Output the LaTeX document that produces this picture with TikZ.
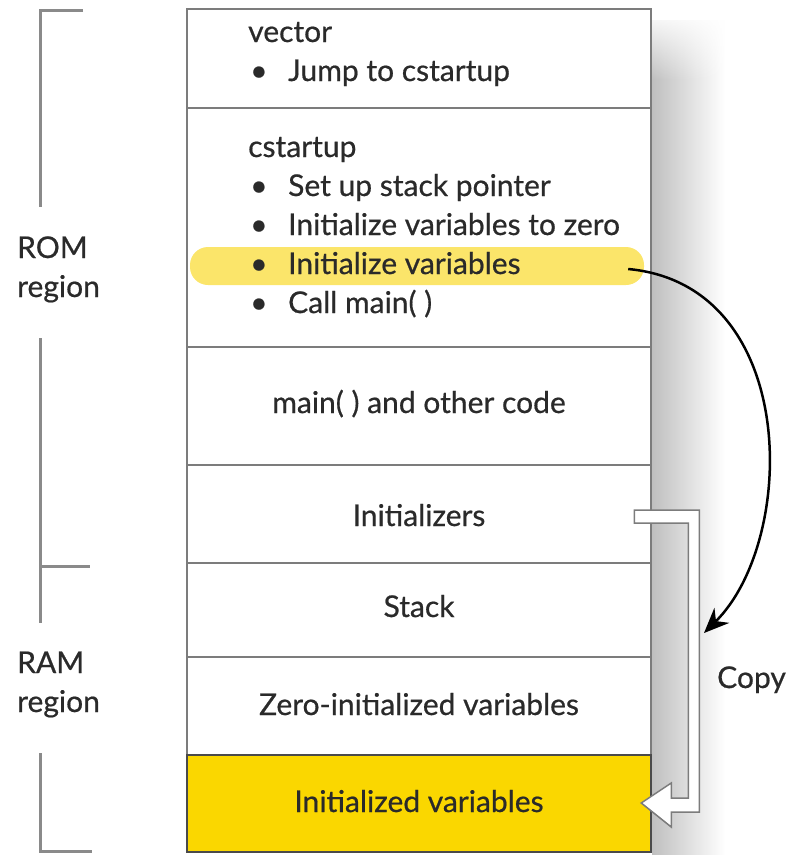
\documentclass[tikz,border=0pt]{standalone}
\usepackage{fontspec}
\setmainfont{Lato}[UprightFeatures={FakeBold=0.6}]
\usetikzlibrary{arrows.meta,fadings}
\definecolor{boxline}{HTML}{7C7C7C}
\definecolor{brkline}{HTML}{8A8A8A}
\definecolor{hilite}{HTML}{FBE56A}
\definecolor{ivarfill}{HTML}{FAD700}
\definecolor{txt}{HTML}{2A2A2A}

\begin{document}
\begin{tikzpicture}[x=1pt,y=-1pt,
  membox/.style={draw=boxline,line width=2.5pt,minimum width=464pt,inner sep=0pt},
  lbl/.style={text=txt,font=\fontsize{30}{39}\selectfont,inner sep=0pt},
  brk/.style={draw=brkline,line width=3pt},
  copyarrow/.style={draw=boxline,fill=white,line width=1.5pt,line join=miter}]
\useasboundingbox (0,0) rectangle (797,855);

% shadow on the right of the memory map
\shade[left color=gray!50,right color=white] (652,20) rectangle (725,855);
\fill[white,path fading=south] (650,10) rectangle (732,80);

% the memory map
\node[membox,minimum height=99pt] (vec) at (419,58.5) {};
\node[membox,minimum height=239pt] (cst) at (419,227.5) {};
\node[membox,minimum height=118pt] (mainc) at (419,406) {};
\node[membox,minimum height=98pt] (init) at (419,514) {};
\node[membox,minimum height=94pt] (stk) at (419,610) {};
\node[membox,minimum height=98pt] (zero) at (419,706) {};
\node[membox,minimum height=97pt,fill=ivarfill,draw=boxline!60!black] (ivar) at (419,803.5) {};

\node[fill=hilite,rounded corners=18pt,minimum width=454pt,minimum height=38pt] (hl) at (417,266) {};

\node[lbl,anchor=base west] (vtitle) at (248,42) {vector};
\node[lbl,anchor=base west] (vb1) at (250,81) {\textbullet};
\node[lbl,anchor=base west] (vl1) at (288,81) {Jump to cstartup};

\node[lbl,anchor=base west] (ctitle) at (248,157) {cstartup};
\foreach \yy/\tt [count=\i] in {196/Set up stack pointer,235/Initialize variables to zero,274/Initialize variables,313/Call main( )}{
  \node[lbl,anchor=base west] (cb\i) at (250,\yy) {\textbullet};
  \node[lbl,anchor=base west] (cl\i) at (288,\yy) {\tt};
}

\node[lbl,anchor=base] (tmain) at (mainc.center |- 0,413) {main( ) and other code};
\node[lbl,anchor=base] (tinit) at (init.center |- 0,526) {Initializers};
\node[lbl,anchor=base] (tstk) at (stk.center |- 0,617) {Stack};
\node[lbl,anchor=base] (tzero) at (zero.center |- 0,715) {Zero-initialized variables};
\node[lbl,anchor=base] (tivar) at (ivar.center |- 0,812) {Initialized variables};

% region brackets
\draw[brk] (83,10) -- (40,10) -- (40,207);
\draw[brk] (40,338) -- (40,566) -- (90,566) (40,566) -- (40,623);
\draw[brk] (40,753) -- (40,851) -- (92,851);
\node[lbl,anchor=base west,align=left] (rom) at (17,297) {ROM\\region};
\node[lbl,anchor=base west,align=left] (ram) at (17,712) {RAM\\region};

% copy arrow
\draw[copyarrow] ([shift={(-18,-4)}]init.east) -- ++(65,0) -- ++(0,302) -- ++(-28,0) -- ++(0,15)
  -- ++(-30,-24) -- ++(30,-20) -- ++(0,15) -- ++(17,0) -- ++(0,-275) -- ++(-54,0) -- cycle;
\node[lbl,anchor=base west] (cpy) at (717,688) {Copy};

\coordinate (hit) at (704,633);
\draw[line width=2.5pt,-{Stealth[length=25pt,width=21pt]}] ([xshift=-16pt,yshift=-3pt]hl.east)
  .. controls (800,285) and (798,540) .. (hit);
\end{tikzpicture}
\end{document}
